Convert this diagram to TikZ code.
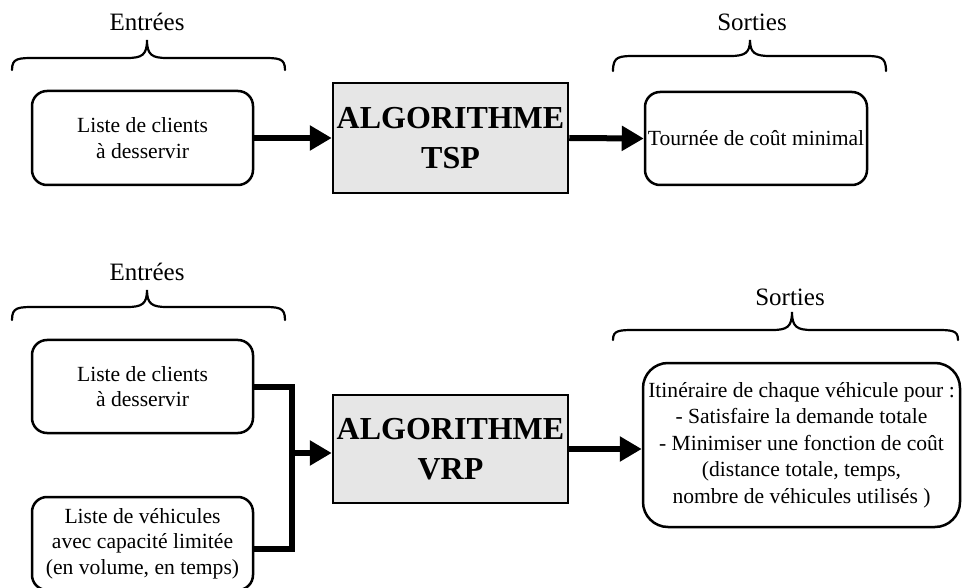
\documentclass[tikz,border=0pt]{standalone}
\usepackage{fontspec}
\setmainfont{Liberation Serif}
\usetikzlibrary{arrows.meta}
\newcommand\drawbrace[6]{% xl, xr, yend, yhoriz, ytip, xtip
  \draw[bracestyle] (#1,#3) .. controls (#1,#4) and (#1+6,#4) .. (#1+24,#4)
    -- (#6-20,#4) .. controls (#6-5,#4) and (#6,#4-3) .. (#6,#5)
    .. controls (#6,#4-3) and (#6+5,#4) .. (#6+20,#4)
    -- (#2-24,#4) .. controls (#2-6,#4) and (#2,#4) .. (#2,#3);}
\begin{document}
\begin{tikzpicture}[x=1pt,y=-1pt,
  every node/.style={font=\fontsize{21.6}{25.5}\selectfont},
  inbox/.style={draw,line width=2.5pt,rounded corners=15pt,inner sep=0pt,align=center},
  algobox/.style={draw,line width=2.5pt,fill=algogrey,inner sep=0pt,align=center,
    font=\fontsize{32}{40}\selectfont\bfseries},
  lbl/.style={font=\fontsize{25}{28}\selectfont},
  arr/.style={line width=6pt,-{Triangle[length=22pt,width=24pt]}},
  conn/.style={line width=6pt},
  bracestyle/.style={line width=2.2pt,line cap=round}]
\definecolor{algogrey}{HTML}{E6E6E6}
\useasboundingbox (0,0) rectangle (962,588);
% top row
\node[lbl] (e1) at (147,22) {Entrées};
\node[lbl] (s1) at (752,22) {Sorties};
\drawbrace{12}{285}{70}{58}{40}{147}
\drawbrace{613}{886}{71}{56}{40}{750}
\node[inbox,minimum width=221pt,minimum height=94pt] (in1) at (142.5,138) {Liste de clients\\à desservir};
\node[algobox,minimum width=235pt,minimum height=110pt] (tsp) at (450.5,138) {ALGORITHME\\TSP};
\node[inbox,minimum width=222pt,minimum height=93pt] (out1) at (756,138.5) {Tournée de coût minimal};
\draw[arr] (in1.east) -- (tsp.west);
\draw[arr] (tsp.east) -- (out1.west);
% bottom row
\node[lbl] (e2) at (147,272) {Entrées};
\node[lbl] (s2) at (790,297) {Sorties};
\drawbrace{12}{285}{320}{307}{290}{147}
\drawbrace{613}{958}{340}{330}{312}{792}
\node[inbox,minimum width=221pt,minimum height=93pt] (inA) at (142.5,386.5) {Liste de clients\\à desservir};
\node[inbox,minimum width=221pt,minimum height=93pt] (inB) at (142.5,543.5) {Liste de véhicules\\avec capacité limitée\\(en volume, en temps)};
\node[algobox,minimum width=235pt,minimum height=108pt] (vrp) at (450.5,449) {ALGORITHME\\VRP};
\node[inbox,rounded corners=25pt,minimum width=317pt,minimum height=164pt,font=\fontsize{21.6}{26.5}\selectfont] (out2) at (801.5,445)
  {Itinéraire de chaque véhicule pour :\\- Satisfaire la demande totale\\- Minimiser une fonction de coût\\(distance totale, temps,\\nombre de véhicules utilisés )};
\coordinate (j) at (292,453);
\draw[conn] (inA.east) -| (j) |- ([yshift=-5pt]inB.east);
\draw[arr] ([xshift=-3pt]j) -- (j -| vrp.west);
\draw[arr] (vrp.east) -- (vrp.east -| out2.west);
\end{tikzpicture}
\end{document}
